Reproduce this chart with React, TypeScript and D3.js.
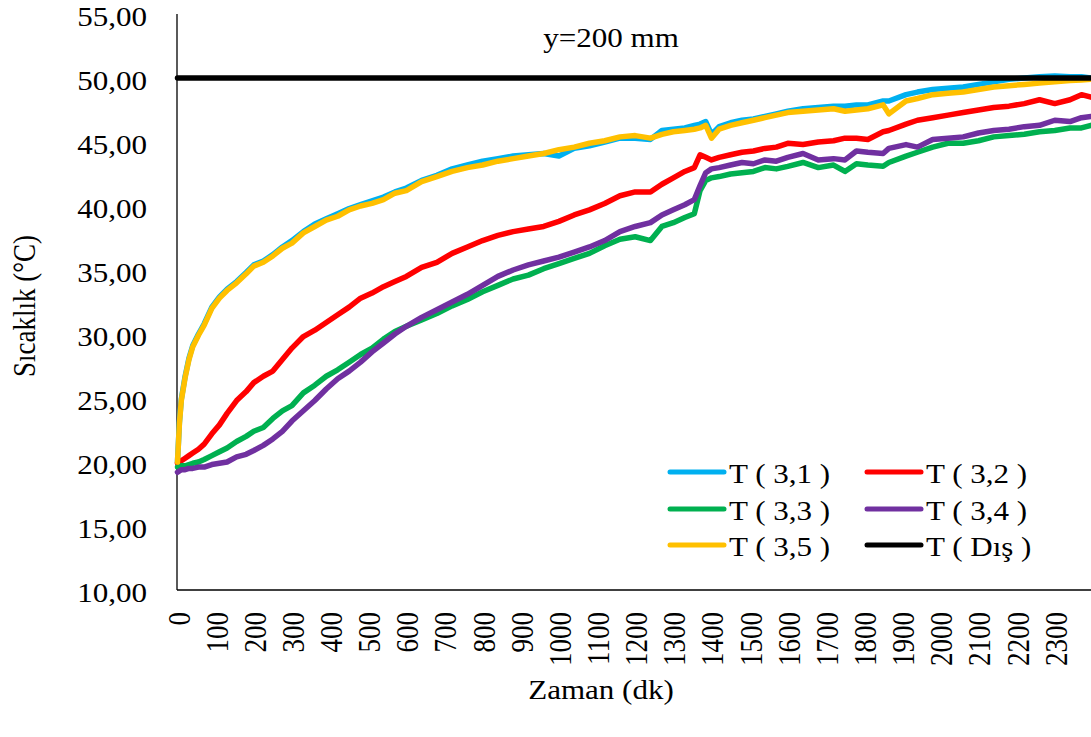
import React from 'react';
import * as d3 from 'd3';

// time (dk) samples
const times = [0, 5, 10, 20, 30, 40, 55, 70, 90, 110, 130, 155, 180, 200, 225, 250, 275, 300, 330, 360,
  390, 420, 450, 480, 510, 540, 570, 600, 640, 680, 720, 760, 800, 840, 880, 920, 960, 1000, 1040, 1080,
  1120, 1160, 1200, 1240, 1270, 1300, 1330, 1355, 1370, 1385, 1400, 1420, 1450, 1480, 1510, 1540, 1570, 1600, 1640, 1680,
  1720, 1750, 1780, 1810, 1850, 1865, 1910, 1940, 1980, 2020, 2060, 2100, 2140, 2180, 2220, 2260, 2300, 2340, 2370, 2395];

const t31 = [20.0, 23.1, 24.9, 26.7, 28.1, 29.1, 30.0, 30.8, 32.1, 32.9, 33.5, 34.1, 34.8, 35.4, 35.7, 36.2, 36.8, 37.3, 38.0, 38.6,
  39.0, 39.4, 39.8, 40.1, 40.4, 40.7, 41.1, 41.4, 42.0, 42.4, 42.9, 43.2, 43.5, 43.7, 43.9, 44.0, 44.1, 43.9, 44.5, 44.7,
  45.0, 45.3, 45.3, 45.2, 45.9, 46.0, 46.1, 46.3, 46.4, 46.6, 45.6, 46.2, 46.5, 46.7, 46.8, 47.0, 47.2, 47.4, 47.6, 47.7,
  47.8, 47.8, 47.9, 47.9, 48.2, 48.2, 48.7, 48.9, 49.1, 49.2, 49.3, 49.5, 49.7, 49.9, 50.0, 50.1, 50.15, 50.1, 50.1, 50.0];

const t32 = [19.9, 20.0, 20.1, 20.3, 20.5, 20.7, 21.0, 21.4, 22.2, 22.9, 23.8, 24.8, 25.5, 26.2, 26.7, 27.1, 28.0, 28.9, 29.8, 30.3,
  30.9, 31.5, 32.1, 32.8, 33.2, 33.7, 34.1, 34.5, 35.2, 35.6, 36.3, 36.8, 37.3, 37.7, 38.0, 38.2, 38.4, 38.8, 39.3, 39.7,
  40.2, 40.8, 41.1, 41.1, 41.7, 42.2, 42.7, 43.0, 44.0, 43.8, 43.6, 43.8, 44.0, 44.2, 44.3, 44.5, 44.6, 44.9, 44.8, 45.0,
  45.1, 45.3, 45.3, 45.2, 45.8, 45.9, 46.4, 46.7, 46.9, 47.1, 47.3, 47.5, 47.7, 47.8, 48.0, 48.3, 48.0, 48.3, 48.7, 48.5];

const t33 = [19.6, 19.6, 19.7, 19.7, 19.8, 19.9, 20.0, 20.2, 20.5, 20.8, 21.1, 21.6, 22.0, 22.4, 22.7, 23.4, 24.0, 24.4, 25.4, 26.0,
  26.7, 27.2, 27.8, 28.4, 28.9, 29.6, 30.2, 30.6, 31.1, 31.6, 32.2, 32.7, 33.3, 33.8, 34.3, 34.6, 35.1, 35.5, 35.9, 36.3,
  36.9, 37.4, 37.6, 37.3, 38.4, 38.7, 39.1, 39.4, 41.2, 42.0, 42.2, 42.3, 42.5, 42.6, 42.7, 43.0, 42.9, 43.1, 43.4, 43.0,
  43.2, 42.7, 43.3, 43.2, 43.1, 43.4, 43.9, 44.2, 44.6, 44.9, 44.9, 45.1, 45.4, 45.5, 45.6, 45.8, 45.9, 46.1, 46.1, 46.3];

const t34 = [19.2, 19.3, 19.4, 19.4, 19.5, 19.5, 19.6, 19.6, 19.8, 19.9, 20.0, 20.4, 20.6, 20.9, 21.3, 21.8, 22.4, 23.2, 24.0, 24.8,
  25.7, 26.5, 27.1, 27.8, 28.6, 29.3, 30.0, 30.6, 31.3, 31.9, 32.5, 33.1, 33.8, 34.5, 35.0, 35.4, 35.7, 36.0, 36.4, 36.8,
  37.3, 38.0, 38.4, 38.7, 39.3, 39.7, 40.1, 40.5, 41.6, 42.6, 42.9, 43.0, 43.2, 43.4, 43.3, 43.6, 43.5, 43.8, 44.1, 43.6,
  43.7, 43.6, 44.3, 44.2, 44.1, 44.5, 44.8, 44.6, 45.2, 45.3, 45.4, 45.7, 45.9, 46.0, 46.2, 46.3, 46.7, 46.6, 46.9, 47.0];

const t35 = [20.0, 23.0, 24.8, 26.6, 28.0, 29.0, 29.9, 30.7, 32.0, 32.8, 33.4, 34.0, 34.7, 35.3, 35.6, 36.1, 36.7, 37.1, 37.9, 38.4,
  38.9, 39.2, 39.7, 40.0, 40.2, 40.5, 41.0, 41.2, 41.9, 42.3, 42.7, 43.0, 43.2, 43.5, 43.7, 43.9, 44.1, 44.4, 44.6, 44.9,
  45.1, 45.4, 45.5, 45.3, 45.6, 45.8, 45.9, 46.0, 46.1, 46.3, 45.3, 46.0, 46.3, 46.5, 46.7, 46.9, 47.1, 47.3, 47.4, 47.5,
  47.6, 47.4, 47.5, 47.6, 47.9, 47.2, 48.2, 48.4, 48.7, 48.8, 48.9, 49.1, 49.3, 49.4, 49.5, 49.6, 49.7, 49.8, 49.85, 49.9];

const disTimes = [0, 2395];
const tDis = [50, 50];

const yTicks = [10, 15, 20, 25, 30, 35, 40, 45, 50, 55];
const xTicks = d3.range(0, 2400, 100);

const series = [
  { name: 'T ( 3,1 )', color: '#00B0F0', t: times, v: t31 },
  { name: 'T ( 3,2 )', color: '#FF0000', t: times, v: t32 },
  { name: 'T ( 3,3 )', color: '#00B050', t: times, v: t33 },
  { name: 'T ( 3,4 )', color: '#7030A0', t: times, v: t34 },
  { name: 'T ( 3,5 )', color: '#FFC000', t: times, v: t35 },
  { name: 'T ( Dış )', color: '#000000', t: disTimes, v: tDis },
];

const W = 1091, H = 737;
const font = '"Liberation Serif", "Times New Roman", serif';
const fs = 27;
const sx = 1.15; // the original text is a bit wide

const x = d3.scaleLinear().domain([0, 2395]).range([177.5, 1091]);
const y = d3.scaleLinear().domain([10, 55]).range([590, 14]);

function T(props: { x: number; y: number; rot?: boolean; anchor?: string; children: any }) {
  const tr = `translate(${props.x},${props.y}) scale(${sx},1)` + (props.rot ? ' rotate(-90)' : '');
  return (
    <g transform={tr}>
      <text textAnchor={props.anchor || 'start'} fontFamily={font} fontSize={fs} fill="#000">{props.children}</text>
    </g>
  );
}

export default function App() {
  const paths = series.map(s => {
    const pts: [number, number][] = s.t.map((t, i) => [x(t), y(s.v[i])]);
    return d3.line()(pts) || '';
  });

  // legend positions
  const legRows = [472, 509, 545];
  const legCols = [670, 867];

  return (
    <svg width={W} height={H} style={{ position: 'absolute', left: 0, top: 0, background: '#fff' }}>
      <rect width={W} height={H} fill="#fff" />

      {/* axes */}
      <line x1={177} x2={177} y1={14} y2={590} stroke="#000" strokeWidth={1.3} />
      <line x1={177} x2={W} y1={590} y2={590} stroke="#000" strokeWidth={1.5} />

      {yTicks.map(v => (
        <T key={v} x={147} y={y(v) + 12} anchor="end">{d3.format('.2f')(v).replace('.', ',')}</T>
      ))}
      {xTicks.map(t => (
        <T key={t} x={x(t) + 12} y={612} rot anchor="end">{String(t)}</T>
      ))}

      {series.map((s, i) => (
        <path key={s.name} d={paths[i]} fill="none" stroke={s.color}
          strokeWidth={5.5} strokeLinejoin="round" strokeLinecap="round" />
      ))}

      <T x={611} y={47} anchor="middle">y=200 mm</T>
      <T x={35} y={306} rot anchor="middle">Sıcaklık (°C)</T>
      <T x={601} y={699} anchor="middle">Zaman (dk)</T>

      {series.map((s, i) => {
        const cx = legCols[i % 2];
        const cy = legRows[Math.floor(i / 2)];
        return (
          <g key={'leg' + i}>
            <line x1={cx} x2={cx + 54} y1={cy} y2={cy} stroke={s.color} strokeWidth={5} strokeLinecap="round" />
            <T x={cx + 59} y={cy + 11}>{s.name}</T>
          </g>
        );
      })}
    </svg>
  );
}
